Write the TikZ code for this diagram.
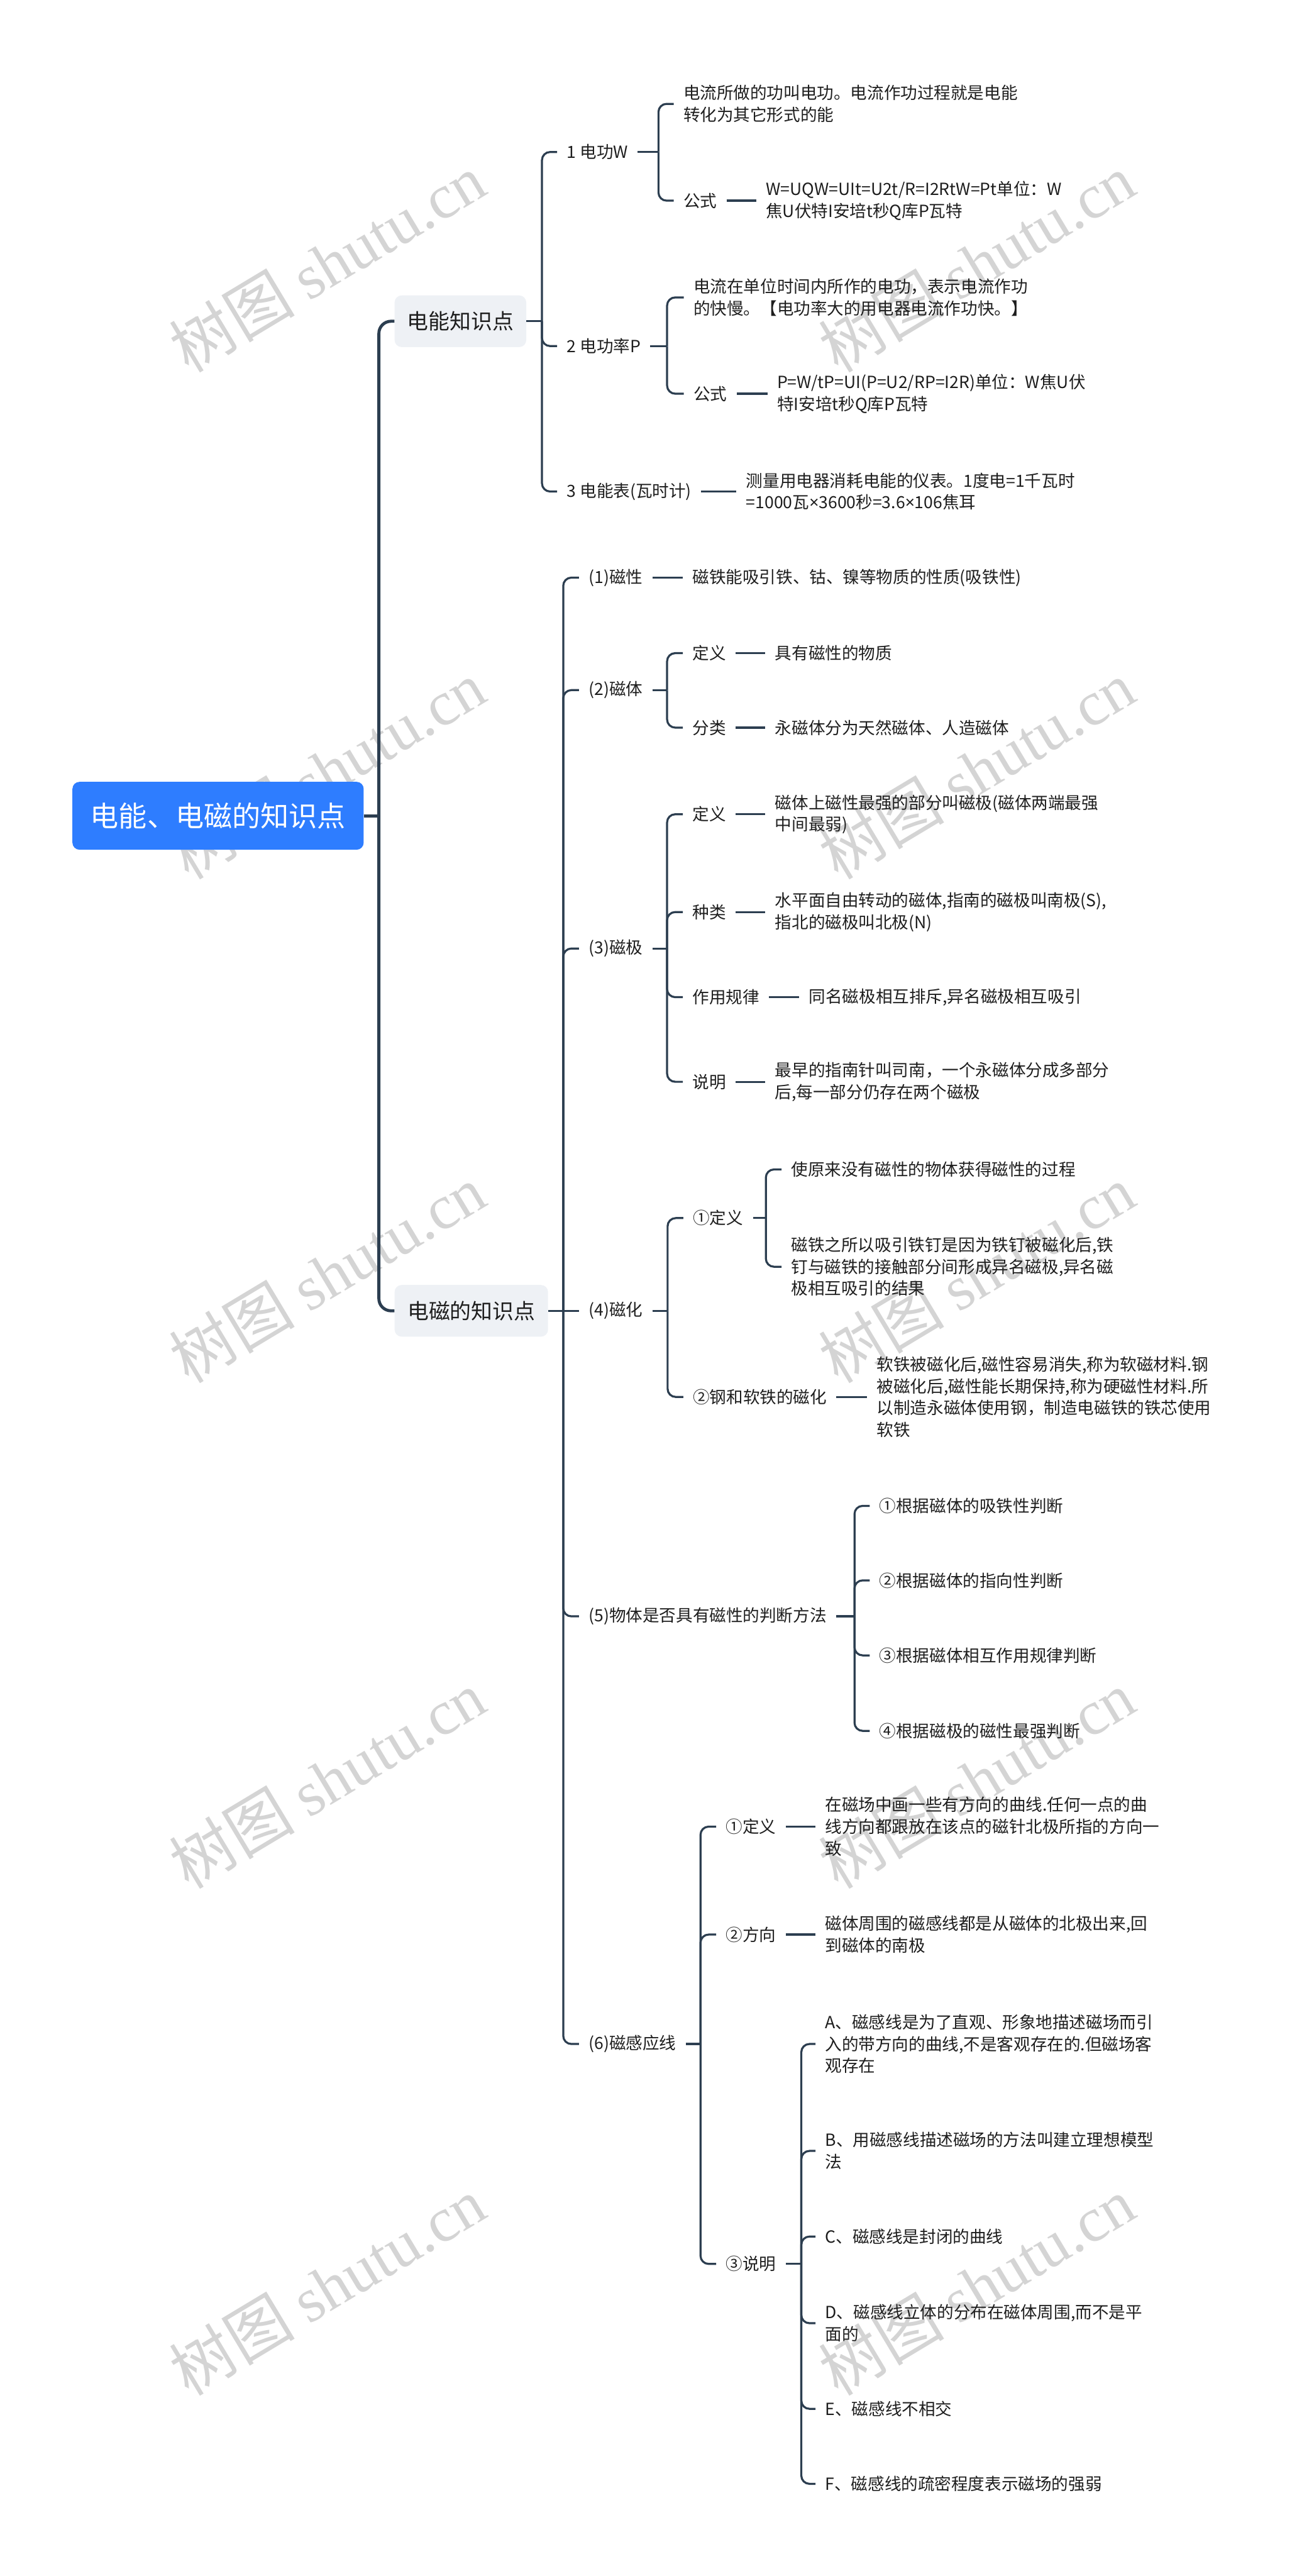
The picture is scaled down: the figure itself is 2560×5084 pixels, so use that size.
\documentclass[tikz,border=0pt]{standalone}
\usepackage{fontspec}
\setmainfont{Noto Sans CJK SC}
\newfontfamily\wmlat{Liberation Serif}
\newfontfamily\latsans{Noto Sans}
\newcommand\tms{{\latsans ×}}
\definecolor{ln}{RGB}{44,62,80}
\definecolor{txt}{RGB}{30,30,30}
\definecolor{rootblue}{RGB}{46,125,255}
\definecolor{subgray}{RGB}{238,241,245}
\definecolor{wmc}{RGB}{212,212,212}
\tikzset{
  lk/.style={draw=ln, line width=4pt, rounded corners=16pt},
  lkz/.style={draw=ln, line width=6pt, rounded corners=24pt},
  tx/.style={anchor=west, inner xsep=19pt, inner ysep=3pt, align=left, text=txt,
             font=\fontsize{33pt}{43pt}\selectfont},
  rootbox/.style={fill=rootblue, rounded corners=14pt, text=white, inner sep=0pt,
             minimum width=575pt, minimum height=134pt, font=\fontsize{56pt}{60pt}\selectfont},
  subbox/.style={fill=subgray, rounded corners=14pt, text=txt, inner sep=0pt,
             minimum height=102pt, font=\fontsize{42pt}{48pt}\selectfont},
  wmk/.style={rotate=31, text=wmc, inner sep=0pt, font=\fontsize{124pt}{130pt}\selectfont}
}
\begin{document}
\begin{tikzpicture}[x=1pt,y=-1pt]
\useasboundingbox (0,0) rectangle (2560,5084);
% watermarks
\foreach \wy in {519,1519,2514,3512,4512}{
  \node[wmk] (wl\wy) at (646,\wy) {树图 {\wmlat shutu.cn}};
  \node[wmk] (wr\wy) at (1928,\wy) {树图 {\wmlat shutu.cn}};
}
% root and level 1
\node[rootbox] (R) at (430.5,1610) {电能、电磁的知识点};
\node[subbox, minimum width=260pt] (E) at (909,634) {电能知识点};
\node[subbox, minimum width=303pt] (M) at (930.5,2587) {电磁的知识点};
\coordinate (T) at (748,1610);
\draw[lkz] (R.east) -- (T);
\draw[lkz] (T) |- (E.west);
\draw[lkz] (T) |- (M.west);

% ---------- 电能知识点 ----------
\coordinate (Eb) at (1070,634);
\draw[lk] (E.east) -- (Eb);
\node[tx] (E1) at (1100,300) {1 电功W};
\node[tx] (E2) at (1100,683) {2 电功率P};
\node[tx] (E3) at (1100,970) {3 电能表(瓦时计)};
\foreach \c in {E1,E2,E3} \draw[lk] (Eb) |- (\c.west);

\coordinate (E1b) at (1300,300);
\draw[lk] (E1.east) -- (E1b);
\node[tx] (E11) at (1330,205) {电流所做的功叫电功。电流作功过程就是电能\\转化为其它形式的能};
\node[tx] (E12) at (1330,396) {公式};
\foreach \c in {E11,E12} \draw[lk] (E1b) |- (\c.west);
\node[tx] (E12a) at (1493,396) {W=UQW=UIt=U2t/R=I2RtW=Pt单位：W\\焦U伏特I安培t秒Q库P瓦特};
\draw[lk] (E12.east) -- (E12a.west);

\coordinate (E2b) at (1317,683);
\draw[lk] (E2.east) -- (E2b);
\node[tx] (E21) at (1350,587) {电流在单位时间内所作的电功，表示电流作功\\的快慢。【电功率大的用电器电流作功快。】};
\node[tx] (E22) at (1350,777) {公式};
\foreach \c in {E21,E22} \draw[lk] (E2b) |- (\c.west);
\node[tx] (E22a) at (1515,777) {P=W/tP=UI(P=U2/RP=I2R)单位：W焦U伏\\特I安培t秒Q库P瓦特};
\draw[lk] (E22.east) -- (E22a.west);

\node[tx] (E3a) at (1454,970) {测量用电器消耗电能的仪表。1度电=1千瓦时\\=1000瓦\tms 3600秒=3.6\tms 106焦耳};
\draw[lk] (E3.east) -- (E3a.west);

% ---------- 电磁的知识点 ----------
\coordinate (Mb) at (1112,2587);
\draw[lk] (M.east) -- (Mb);
\node[tx] (M1) at (1143,1140) {(1)磁性};
\node[tx] (M2) at (1143,1362) {(2)磁体};
\node[tx] (M3) at (1143,1872) {(3)磁极};
\node[tx] (M4) at (1143,2587) {(4)磁化};
\node[tx] (M5) at (1143,3190) {(5)物体是否具有磁性的判断方法};
\node[tx] (M6) at (1143,4034) {(6)磁感应线};
\foreach \c in {M1,M2,M3,M5,M6} \draw[lk] (Mb) |- (\c.west);
\draw[lk] (Mb) -- (M4.west);

% (1)
\node[tx] (M1a) at (1348,1140) {磁铁能吸引铁、钴、镍等物质的性质(吸铁性)};
\draw[lk] (M1.east) -- (M1a.west);

% (2)
\coordinate (M2b) at (1317,1362);
\draw[lk] (M2.east) -- (M2b);
\node[tx] (M21) at (1348,1289) {定义};
\node[tx] (M22) at (1348,1436) {分类};
\foreach \c in {M21,M22} \draw[lk] (M2b) |- (\c.west);
\node[tx] (M21a) at (1511,1289) {具有磁性的物质};
\node[tx] (M22a) at (1511,1436) {永磁体分为天然磁体、人造磁体};
\draw[lk] (M21.east) -- (M21a.west);
\draw[lk] (M22.east) -- (M22a.west);

% (3)
\coordinate (M3b) at (1317,1872);
\draw[lk] (M3.east) -- (M3b);
\node[tx] (M31) at (1348,1607) {定义};
\node[tx] (M32) at (1348,1800) {种类};
\node[tx] (M33) at (1348,1968) {作用规律};
\node[tx] (M34) at (1348,2135) {说明};
\foreach \c in {M31,M32,M33,M34} \draw[lk] (M3b) |- (\c.west);
\node[tx] (M31a) at (1511,1607) {磁体上磁性最强的部分叫磁极(磁体两端最强\\中间最弱)};
\node[tx] (M32a) at (1511,1800) {水平面自由转动的磁体,指南的磁极叫南极(S),\\指北的磁极叫北极(N)};
\node[tx] (M33a) at (1578,1968) {同名磁极相互排斥,异名磁极相互吸引};
\node[tx] (M34a) at (1511,2135) {最早的指南针叫司南，一个永磁体分成多部分\\后,每一部分仍存在两个磁极};
\foreach \c in {M31,M32,M33,M34} \draw[lk] (\c.east) -- (\c a.west);

% (4)
\coordinate (M4b) at (1318,2587);
\draw[lk] (M4.east) -- (M4b);
\node[tx] (M41) at (1349,2404) {①定义};
\node[tx] (M42) at (1349,2757) {②钢和软铁的磁化};
\foreach \c in {M41,M42} \draw[lk] (M4b) |- (\c.west);
\coordinate (M41b) at (1512,2404);
\draw[lk] (M41.east) -- (M41b);
\node[tx] (M411) at (1543,2308) {使原来没有磁性的物体获得磁性的过程};
\node[tx] (M412) at (1543,2500) {磁铁之所以吸引铁钉是因为铁钉被磁化后,铁\\钉与磁铁的接触部分间形成异名磁极,异名磁\\极相互吸引的结果};
\foreach \c in {M411,M412} \draw[lk] (M41b) |- (\c.west);
\node[tx] (M42a) at (1712,2757) {软铁被磁化后,磁性容易消失,称为软磁材料.钢\\被磁化后,磁性能长期保持,称为硬磁性材料.所\\以制造永磁体使用钢，制造电磁铁的铁芯使用\\软铁};
\draw[lk] (M42.east) -- (M42a.west);

% (5)
\coordinate (M5b) at (1687,3190);
\draw[lk] (M5.east) -- (M5b);
\node[tx] (M51) at (1717,2972) {①根据磁体的吸铁性判断};
\node[tx] (M52) at (1717,3119) {②根据磁体的指向性判断};
\node[tx] (M53) at (1717,3267) {③根据磁体相互作用规律判断};
\node[tx] (M54) at (1717,3416) {④根据磁极的磁性最强判断};
\foreach \c in {M51,M52,M53,M54} \draw[lk] (M5b) |- (\c.west);

% (6)
\coordinate (M6b) at (1383,4034);
\draw[lk] (M6.east) -- (M6b);
\node[tx] (M61) at (1414,3605) {①定义};
\node[tx] (M62) at (1414,3818) {②方向};
\node[tx] (M63) at (1414,4468) {③说明};
\foreach \c in {M61,M62,M63} \draw[lk] (M6b) |- (\c.west);
\node[tx] (M61a) at (1610,3605) {在磁场中画一些有方向的曲线.任何一点的曲\\线方向都跟放在该点的磁针北极所指的方向一\\致};
\node[tx] (M62a) at (1610,3818) {磁体周围的磁感线都是从磁体的北极出来,回\\到磁体的南极};
\draw[lk] (M61.east) -- (M61a.west);
\draw[lk] (M62.east) -- (M62a.west);
\coordinate (M63b) at (1582,4468);
\draw[lk] (M63.east) -- (M63b);
\node[tx] (SA) at (1610,4034) {A、磁感线是为了直观、形象地描述磁场而引\\入的带方向的曲线,不是客观存在的.但磁场客\\观存在};
\node[tx] (SB) at (1610,4245) {B、用磁感线描述磁场的方法叫建立理想模型\\法};
\node[tx] (SC) at (1610,4414) {C、磁感线是封闭的曲线};
\node[tx] (SD) at (1610,4585) {D、磁感线立体的分布在磁体周围,而不是平\\面的};
\node[tx] (SE) at (1610,4754) {E、磁感线不相交};
\node[tx] (SF) at (1610,4902) {F、磁感线的疏密程度表示磁场的强弱};
\foreach \c in {SA,SB,SC,SD,SE,SF} \draw[lk] (M63b) |- (\c.west);
\end{tikzpicture}
\end{document}
